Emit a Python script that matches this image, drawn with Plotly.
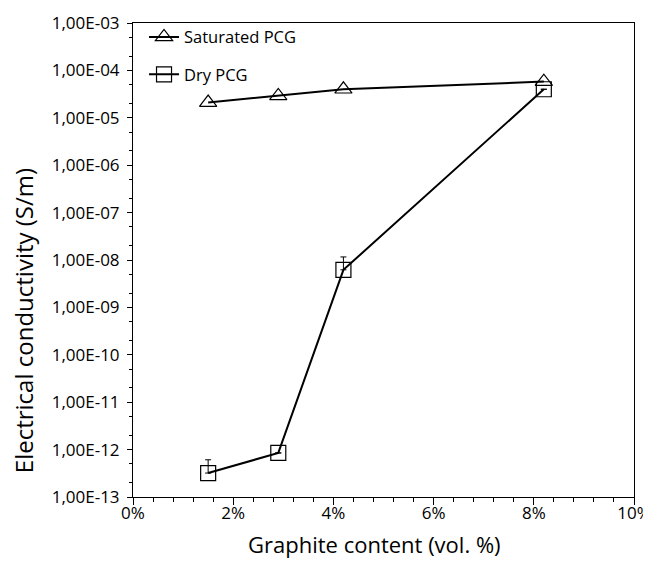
import plotly.graph_objects as go

x_sat = [1.5, 2.9, 4.2, 8.2]
y_sat = [2.1e-5, 2.9e-5, 4.0e-5, 5.8e-5]

x_dry = [1.5, 2.9, 4.2, 8.2]
y_dry = [3.2e-13, 8.5e-13, 6.2e-9, 4.0e-5]
err_dry_plus = [2.9e-13, 0.0, 5.4e-9, 0.0]

y_tickvals = [10.0 ** e for e in range(-13, -2)]
y_ticktext = ["1,00E-%02d" % (-e) for e in range(-13, -2)]
x_tickvals = [0, 2, 4, 6, 8, 10]
x_ticktext = ["0%", "2%", "4%", "6%", "8%", "10%"]

x_title = "Graphite content (vol. %)"
y_title = "Electrical conductivity (S/m)"

FONT = "'Open Sans', sans-serif"

fig = go.Figure()
fig.add_trace(go.Scatter(
    x=x_sat, y=y_sat, mode="lines+markers", name="Saturated PCG",
    line=dict(color="black", width=2),
    marker=dict(symbol="triangle-up-open", size=15, color="black", line=dict(width=1.2)),
    legend="legend",
))
fig.add_trace(go.Scatter(
    x=x_dry, y=y_dry, mode="lines+markers", name="Dry PCG",
    line=dict(color="black", width=2),
    marker=dict(symbol="square-open", size=15, color="black", line=dict(width=1.2)),
    error_y=dict(type="data", array=err_dry_plus, arrayminus=[0, 0, 0, 0],
                 symmetric=False, color="black", thickness=1, width=3),
    legend="legend2",
))

# page body has an 8px default margin (left/top), so the figure is 8px smaller
fig.update_layout(
    width=643, height=554,
    showlegend=True,
    margin=dict(l=125, r=17, t=12, b=65),
    paper_bgcolor="white", plot_bgcolor="white",
    font=dict(family=FONT, size=16, color="black"),
    legend=dict(x=0.022, y=1.007, xanchor="left", yanchor="top",
                bgcolor="rgba(0,0,0,0)", font=dict(size=16.5), itemwidth=30),
    legend2=dict(x=0.022, y=0.928, xanchor="left", yanchor="top",
                 bgcolor="rgba(0,0,0,0)", font=dict(size=16.5), itemwidth=30),
    xaxis=dict(
        range=[0, 10], tickvals=x_tickvals, ticktext=x_ticktext,
        ticks="outside", ticklen=7, tickwidth=1, tickcolor="black",
        minor=dict(ticks="outside", ticklen=4, dtick=0.4, tickcolor="black", showgrid=False),
        showline=True, linecolor="black", linewidth=1, mirror=True,
        showgrid=False, zeroline=False, automargin=False,
        tickfont=dict(size=17), ticklabeloverflow="allow", ticklabelstandoff=-6,
    ),
    yaxis=dict(
        type="log", range=[-13, -3], tickvals=y_tickvals, ticktext=y_ticktext,
        ticks="outside", ticklen=5, tickwidth=1, tickcolor="black",
        minor=dict(ticks="outside", ticklen=3, tickcolor="black", showgrid=False),
        showline=True, linecolor="black", linewidth=1, mirror=True,
        showgrid=False, zeroline=False, automargin=False,
        tickfont=dict(size=17), ticklabelstandoff=4, ticklabeloverflow="allow",
    ),
    annotations=[
        dict(text=x_title, xref="paper", yref="paper", x=0.483, y=-0.0985,
             xanchor="center", yanchor="middle", showarrow=False,
             font=dict(size=22, family=FONT)),
        dict(text=y_title, xref="paper", yref="paper", x=-0.2196, y=0.373,
             xanchor="center", yanchor="middle", showarrow=False, textangle=-90,
             font=dict(size=24, family=FONT)),
    ],
)

fig.write_html("out.html")
